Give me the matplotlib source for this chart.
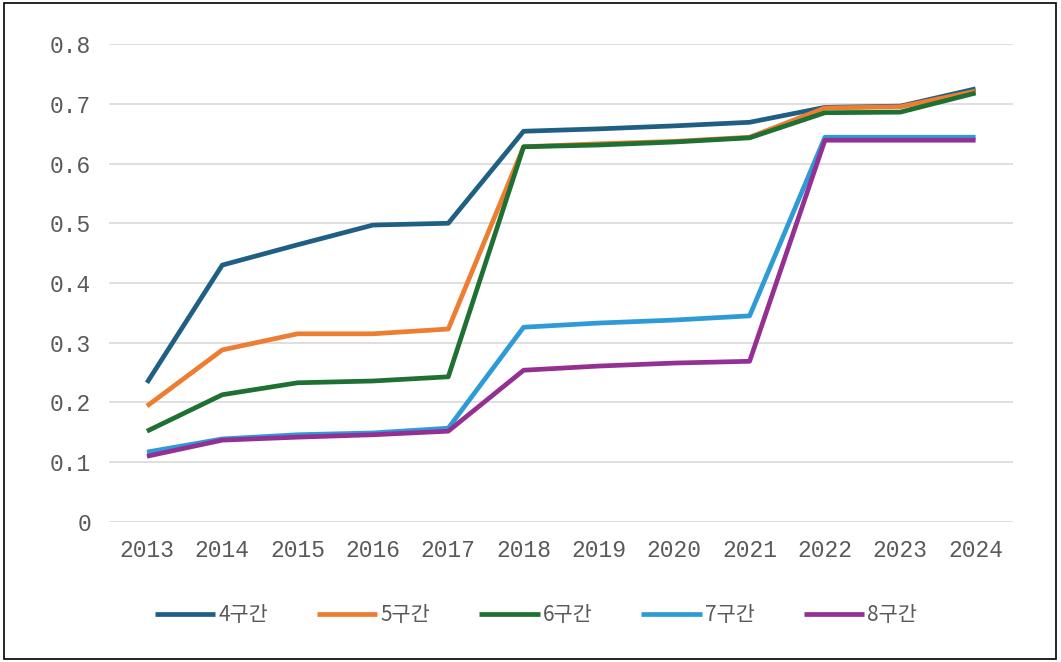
import matplotlib.pyplot as plt
from matplotlib.patches import Rectangle

years = ["2013", "2014", "2015", "2016", "2017", "2018",
         "2019", "2020", "2021", "2022", "2023", "2024"]

s4 = [0.233, 0.430, 0.464, 0.497, 0.500, 0.654, 0.658, 0.663, 0.669, 0.694, 0.696, 0.725]
s5 = [0.194, 0.288, 0.315, 0.315, 0.323, 0.628, 0.633, 0.637, 0.644, 0.693, 0.695, 0.721]
s6 = [0.152, 0.213, 0.233, 0.236, 0.243, 0.628, 0.631, 0.636, 0.643, 0.685, 0.686, 0.718]
s7 = [0.117, 0.139, 0.146, 0.149, 0.157, 0.326, 0.333, 0.338, 0.345, 0.644, 0.644, 0.644]
s8 = [0.110, 0.137, 0.142, 0.146, 0.152, 0.254, 0.261, 0.266, 0.269, 0.639, 0.639, 0.639]

labels = ["4구간", "5구간", "6구간", "7구간", "8구간"]
colors = ["#1F5F84", "#ED7D31", "#1E7033", "#2E9BD6", "#943094"]

fig = plt.figure(figsize=(10.61, 6.62), dpi=100)
ax = fig.add_axes([0.103, 0.2115, 0.852, 0.722])

x = list(range(len(years)))
for ys, lab, c in zip([s4, s5, s6, s7, s8], labels, colors):
    ax.plot(x, ys, color=c, lw=3.4, label=lab, solid_capstyle="butt")

ax.set_xlim(-0.5, len(years) - 0.5)
ax.set_ylim(0, 0.8)
ax.set_yticks([0, 0.1, 0.2, 0.3, 0.4, 0.5, 0.6, 0.7, 0.8])
ax.set_yticklabels(["0", "0.1", "0.2", "0.3", "0.4", "0.5", "0.6", "0.7", "0.8"])
ax.set_xticks(x)
ax.set_xticklabels(years)

for t in ax.get_xticklabels() + ax.get_yticklabels():
    t.set_fontfamily("Liberation Mono")
    t.set_fontsize(16.5)
    t.set_color("#595959")

ax.tick_params(length=0)
ax.tick_params(axis="x", pad=12)
ax.tick_params(axis="y", pad=13)
ax.grid(axis="y", color="#d9d9d9", lw=1.2)
ax.set_axisbelow(True)
for sp in ax.spines.values():
    sp.set_visible(False)

leg = ax.legend(loc="center", bbox_to_anchor=(0.472, -0.195), ncol=5, frameon=False,
                handlelength=2.9, handletextpad=0.15, columnspacing=2.35,
                prop={"family": ["Noto Sans CJK KR", "DejaVu Sans"], "size": 15})
for t in leg.get_texts():
    t.set_color("#595959")

fig.patches.append(Rectangle((0.004, 0.004), 0.991, 0.991, transform=fig.transFigure,
                             fill=False, edgecolor="black", lw=1.2))

plt.savefig("out.png", dpi=100)
plt.close()
